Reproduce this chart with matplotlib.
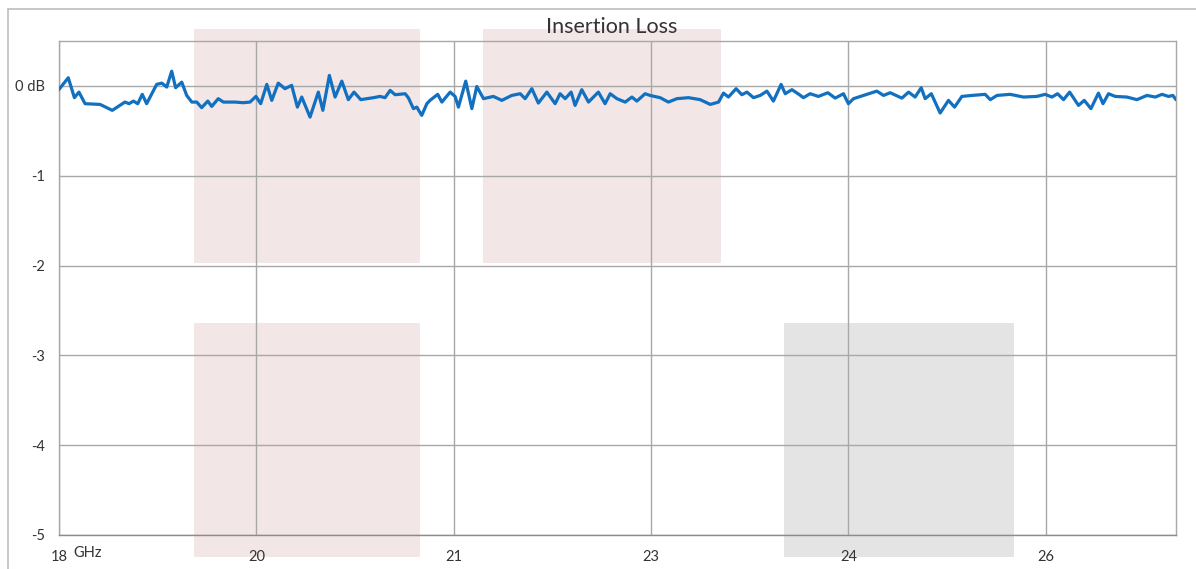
import numpy as np
import matplotlib.pyplot as plt
from matplotlib.patches import Rectangle
from matplotlib.transforms import blended_transform_factory

# axis position (in tick units) and insertion loss in dB
pos = [0.000, 0.047, 0.078, 0.101, 0.132, 0.208, 0.270, 0.334, 0.355, 0.377,
       0.399, 0.422, 0.444, 0.495, 0.521, 0.546, 0.571, 0.591, 0.622, 0.647,
       0.673, 0.698, 0.723, 0.754, 0.774, 0.807, 0.833, 0.892, 0.934, 0.968,
       0.998, 1.022, 1.053, 1.078, 1.111, 1.145, 1.179, 1.208, 1.230, 1.272,
       1.314, 1.337, 1.370, 1.399, 1.433, 1.466, 1.495, 1.529, 1.593, 1.627,
       1.652, 1.678, 1.703, 1.754, 1.770, 1.796, 1.813, 1.838, 1.864, 1.880,
       1.919, 1.940, 1.982, 2.007, 2.024, 2.061, 2.092, 2.117, 2.151, 2.201,
       2.244, 2.294, 2.337, 2.362, 2.396, 2.429, 2.472, 2.514, 2.539, 2.565,
       2.595, 2.615, 2.649, 2.683, 2.708, 2.733, 2.767, 2.793, 2.827, 2.869,
       2.903, 2.928, 2.970, 2.995, 3.046, 3.088, 3.131, 3.190, 3.249, 3.300,
       3.342, 3.367, 3.392, 3.431, 3.460, 3.486, 3.519, 3.553, 3.587, 3.620,
       3.659, 3.680, 3.714, 3.752, 3.772, 3.806, 3.848, 3.896, 3.933, 3.975,
       4.000, 4.026, 4.094, 4.144, 4.178, 4.212, 4.271, 4.305, 4.338, 4.369,
       4.389, 4.420, 4.465, 4.507, 4.538, 4.575, 4.626, 4.693, 4.719, 4.753,
       4.820, 4.887, 4.955, 4.997, 5.031, 5.060, 5.090, 5.121, 5.166, 5.195,
       5.229, 5.267, 5.290, 5.318, 5.352, 5.411, 5.462, 5.513, 5.555, 5.589,
       5.622, 5.644, 5.660]
loss_db = [-0.039, 0.091, -0.131, -0.069, -0.198, -0.206, -0.272, -0.180, -0.198, -0.169,
           -0.198, -0.094, -0.198, 0.017, 0.031, -0.013, 0.164, -0.020, 0.042, -0.106,
           -0.180, -0.180, -0.242, -0.169, -0.228, -0.142, -0.180, -0.180, -0.187, -0.180,
           -0.117, -0.198, 0.017, -0.161, 0.031, -0.031, 0.006, -0.236, -0.124, -0.347,
           -0.069, -0.272, 0.117, -0.124, 0.053, -0.153, -0.069, -0.153, -0.131, -0.117,
           -0.131, -0.050, -0.098, -0.087, -0.131, -0.253, -0.236, -0.328, -0.198, -0.161,
           -0.094, -0.180, -0.069, -0.117, -0.236, 0.053, -0.253, -0.006, -0.142, -0.117,
           -0.161, -0.106, -0.087, -0.142, -0.031, -0.191, -0.069, -0.198, -0.087, -0.142,
           -0.069, -0.217, -0.042, -0.180, -0.124, -0.069, -0.198, -0.087, -0.142, -0.180,
           -0.124, -0.169, -0.087, -0.106, -0.131, -0.180, -0.142, -0.131, -0.153, -0.206,
           -0.180, -0.080, -0.124, -0.031, -0.098, -0.069, -0.131, -0.106, -0.058, -0.169,
           0.017, -0.087, -0.042, -0.098, -0.131, -0.087, -0.117, -0.076, -0.136, -0.087,
           -0.198, -0.142, -0.094, -0.058, -0.106, -0.076, -0.136, -0.069, -0.124, -0.020,
           -0.142, -0.087, -0.302, -0.161, -0.236, -0.117, -0.106, -0.094, -0.153, -0.106,
           -0.094, -0.124, -0.117, -0.094, -0.124, -0.087, -0.153, -0.069, -0.217, -0.161,
           -0.253, -0.080, -0.198, -0.087, -0.117, -0.124, -0.153, -0.106, -0.124, -0.094,
           -0.117, -0.106, -0.153]

tick_pos = [0, 1, 2, 3, 4, 5]
tick_labels = ['18', '20', '21', '23', '24', '26']
y_ticks = [0, -1, -2, -3, -4, -5]
y_labels = ['0 dB', '-1', '-2', '-3', '-4', '-5']

# shaded bands: (x0, x1, y0, y1) in axis units, colour
bands = [(0.684, 1.830, 0.633, -1.967, '#f2e6e6'),
         (0.684, 1.830, -2.644, -5.244, '#f2e6e6'),
         (2.149, 3.355, 0.633, -1.967, '#f2e6e6'),
         (3.675, 4.840, -2.644, -5.244, '#e4e4e4')]

plt.rcParams['font.family'] = ['Lato', 'DejaVu Sans']

fig = plt.figure(figsize=(11.96, 5.69), dpi=100)
ax = fig.add_axes([59 / 1196, 34 / 569, 1117 / 1196, 494 / 569])

# outer chart frame
fig.add_artist(Rectangle((8 / 1196, -0.2), 1.5, 1.2 - 9 / 569, transform=fig.transFigure,
                         fill=False, edgecolor='#bdbdbd', linewidth=1.2))

for x0, x1, y0, y1, c in bands:
    ax.add_patch(Rectangle((x0, y1), x1 - x0, y0 - y1, facecolor=c, edgecolor='none',
                           clip_on=False, zorder=0.2))

ax.plot(pos, loss_db, color='#1170c0', linewidth=2.3, zorder=3,
        solid_joinstyle='round', solid_capstyle='round')

ax.set_xlim(0, 5.66)
ax.set_ylim(-5, 0.5)
ax.set_xticks(tick_pos)
ax.set_xticklabels(tick_labels, fontsize=10.5, color='#333333')
ax.set_yticks(y_ticks)
ax.set_yticklabels(y_labels, fontsize=10.5, color='#333333')
ax.tick_params(axis='both', length=0)
ax.tick_params(axis='x', pad=11)
ax.tick_params(axis='y', pad=10)
ax.set_axisbelow(True)
ax.grid(True, color='#a8a8a8', linewidth=1.0)
for s in ax.spines.values():
    s.set_color('#a8a8a8')
    s.set_linewidth(1.0)
ax.spines['bottom'].set_color('#8c8c8c')

trans = blended_transform_factory(ax.transData, ax.transAxes)
ax.text(0.147, -0.036, 'GHz', transform=trans, ha='center', va='center',
        fontsize=10.5, color='#333333')

fig.text(612 / 1196, 1 - 27 / 569, 'Insertion Loss', ha='center', va='center',
         fontsize=15.5, color='#333333')

fig.savefig('out.png', dpi=100)
